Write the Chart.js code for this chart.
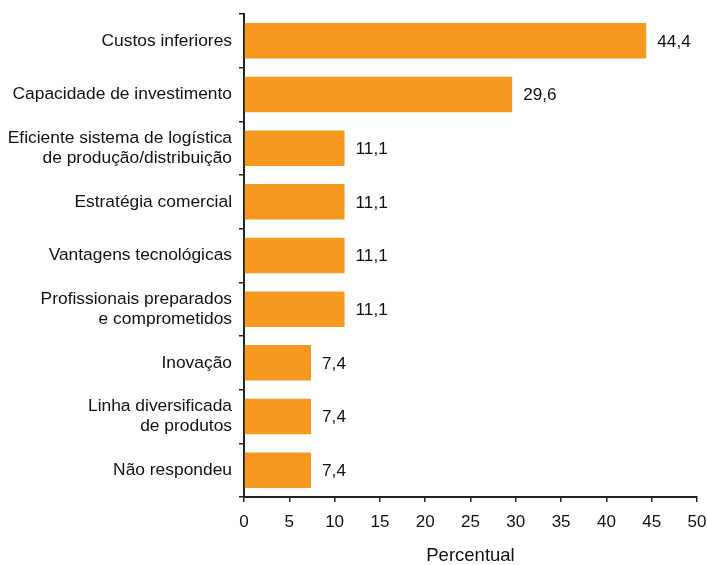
<!DOCTYPE html>
<html>
<head>
<meta charset="utf-8">
<script src="https://cdn.jsdelivr.net/npm/chart.js@4"></script>
<style>
html,body{margin:0;padding:0;background:#fff;}
#wrap{width:707px;height:565px;position:relative;}
</style>
</head>
<body>
<div id="wrap"><canvas id="c" width="707" height="565"></canvas></div>
<script>
const categories = [
  "Custos inferiores",
  "Capacidade de investimento",
  ["Eficiente sistema de logística", "de produção/distribuição"],
  "Estratégia comercial",
  "Vantagens tecnológicas",
  ["Profissionais preparados", "e comprometidos"],
  "Inovação",
  ["Linha diversificada", "de produtos"],
  "Não respondeu"
];
const percentValues = [44.4, 29.6, 11.1, 11.1, 11.1, 11.1, 7.4, 7.4, 7.4];
const xTicks = [0, 5, 10, 15, 20, 25, 30, 35, 40, 45, 50];
const axisTitle = "Percentual";

const FONT = "'Liberation Sans', Arial, sans-serif";

const valueLabels = {
  id: 'valueLabels',
  afterDatasetsDraw(chart) {
    const ctx = chart.ctx;
    const meta = chart.getDatasetMeta(0);
    ctx.save();
    ctx.font = "17.2px " + FONT;
    ctx.fillStyle = "#111";
    ctx.textAlign = "left";
    ctx.textBaseline = "middle";
    meta.data.forEach((bar, i) => {
      const v = chart.data.datasets[0].data[i];
      ctx.fillText(v.toFixed(1).replace('.', ','), bar.x + 11, bar.y + 1);
    });
    ctx.restore();
  }
};

new Chart(document.getElementById('c'), {
  type: 'bar',
  data: {
    labels: categories,
    datasets: [{
      data: percentValues,
      backgroundColor: '#F7991F',
      borderWidth: 0,
      categoryPercentage: 0.66,
      barPercentage: 1.0
    }]
  },
  options: {
    indexAxis: 'y',
    responsive: false,
    animation: false,
    layout: { padding: { top: 14, right: 0, left: 0, bottom: 0 } },
    plugins: { legend: { display: false }, tooltip: { enabled: false } },
    scales: {
      x: {
        type: 'linear',
        min: 0, max: 50,
        afterBuildTicks(scale) { scale.ticks = xTicks.map(v => ({ value: v })); },
        afterFit(scale) { scale.height = 68; scale.paddingRight = 10; },
        grid: { drawOnChartArea: false, drawTicks: true, tickLength: 5, color: '#222', lineWidth: 1.5 },
        border: { display: true, color: '#222', width: 2 },
        ticks: { color: '#111', font: { family: FONT, size: 17 }, padding: 10, maxRotation: 0 },
        title: { display: true, text: axisTitle, color: '#111', font: { family: FONT, size: 18.5, lineHeight: 1.0 }, padding: { top: 13, bottom: 0 } }
      },
      y: {
        type: 'category',
        offset: true,
        afterFit(scale) { scale.width = 244; scale.paddingTop = 0; scale.paddingBottom = 0; },
        grid: { offset: true, drawOnChartArea: false, drawTicks: true, tickLength: 5, color: '#222', lineWidth: 1.5 },
        border: { display: true, color: '#222', width: 2 },
        ticks: { color: '#111', font: { family: FONT, size: 17.4, lineHeight: 1.15 }, padding: 7, crossAlign: 'near' }
      }
    }
  },
  plugins: [valueLabels]
});
</script>
</body>
</html>
